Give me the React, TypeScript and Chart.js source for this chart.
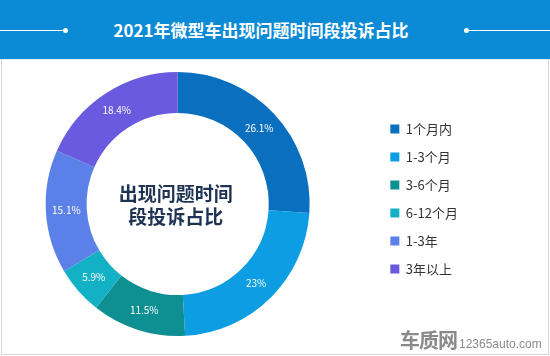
import React, { useEffect, useRef } from "react";
import { Chart, registerables } from "chart.js";

Chart.register(...registerables);

const title = "2021年微型车出现问题时间段投诉占比";
const centerLines = ["出现问题时间", "段投诉占比"];
const categories = ["1个月内", "1-3个月", "3-6个月", "6-12个月", "1-3年", "3年以上"];
const shares = [26.1, 23, 11.5, 5.9, 15.1, 18.4];
const colors = ["#0b6fc0", "#0c9de3", "#0e8f92", "#13b1c5", "#5b80e8", "#6a5adf"];

const FONT = '"Noto Sans CJK SC", "Noto Sans", sans-serif';

const sliceLabels = {
  id: "sliceLabels",
  afterDatasetsDraw(chart: any) {
    const ctx = chart.ctx;
    const meta = chart.getDatasetMeta(0);
    ctx.save();
    ctx.fillStyle = "#ffffff";
    ctx.font = `10px ${FONT}`;
    ctx.textAlign = "center";
    ctx.textBaseline = "middle";
    meta.data.forEach((arc: any, i: number) => {
      const p = arc.tooltipPosition();
      ctx.fillText(`${chart.data.datasets[0].data[i]}%`, p.x, p.y);
    });
    ctx.restore();
  },
};

const centerText = {
  id: "centerText",
  afterDraw(chart: any) {
    const ctx = chart.ctx;
    const meta = chart.getDatasetMeta(0);
    const arc = meta.data[0];
    if (!arc) return;
    const { x, y } = arc.getProps(["x", "y"], true);
    ctx.save();
    ctx.fillStyle = "#1e3354";
    ctx.font = `bold 19px ${FONT}`;
    ctx.textAlign = "center";
    ctx.textBaseline = "middle";
    ctx.fillText(centerLines[0], x - 2, y - 10);
    ctx.fillText(centerLines[1], x - 2, y + 13);
    ctx.restore();
  },
};

export default function App() {
  const ref = useRef<HTMLCanvasElement | null>(null);

  useEffect(() => {
    if (!ref.current) return;
    const chart = new Chart(ref.current, {
      type: "doughnut",
      data: {
        labels: categories,
        datasets: [
          {
            data: shares,
            backgroundColor: colors,
            borderWidth: 0,
            hoverOffset: 0,
          },
        ],
      },
      options: {
        responsive: false,
        maintainAspectRatio: false,
        animation: false,
        cutout: "69%",
        layout: { padding: { left: 0, right: 82, top: 13, bottom: 20 } },
        plugins: {
          tooltip: { enabled: false },
          legend: {
            position: "right",
            align: "start",
            title: { display: true, text: "", font: { size: 10 }, padding: { top: 23.5, bottom: 0 } },
            labels: {
              boxWidth: 9,
              boxHeight: 9,
              padding: 15,
              color: "#333333",
              font: { size: 13, family: FONT },
            },
          },
        },
      },
      plugins: [sliceLabels, centerText],
    });
    return () => chart.destroy();
  }, []);

  return (
    <div
      style={{
        position: "absolute",
        left: 0,
        top: 0,
        width: 550,
        height: 356,
        background: "#ffffff",
        overflow: "hidden",
        fontFamily: FONT,
      }}
    >
      <div
        style={{
          position: "absolute",
          left: 0,
          top: 0,
          width: 550,
          height: 59,
          background: "#0b8ad6",
        }}
      >
        <div style={{ position: "absolute", left: 0, top: 30, width: 64, height: 1, background: "#ffffff" }} />
        <div style={{ position: "absolute", left: 63, top: 28, width: 5, height: 5, borderRadius: 3, background: "#ffffff" }} />
        <div style={{ position: "absolute", left: 464, top: 28, width: 5, height: 5, borderRadius: 3, background: "#ffffff" }} />
        <div style={{ position: "absolute", left: 466, top: 30, width: 84, height: 1, background: "#ffffff" }} />
        <div
          style={{
            position: "absolute",
            left: -14,
            top: 0,
            width: 550,
            height: 59,
            lineHeight: "59px",
            textAlign: "center",
            color: "#ffffff",
            fontWeight: "bold",
            fontSize: 17,
            whiteSpace: "nowrap",
          }}
        >
          {title}
        </div>
      </div>
      <div style={{ position: "absolute", left: 0, top: 59, width: 550, height: 1, background: "#d8f3fb" }} />
      <canvas
        ref={ref}
        width={570}
        height={297}
        style={{ position: "absolute", left: -20, top: 59, width: 570, height: 297 }}
      />
      <div style={{ position: "absolute", left: 1, top: 59, width: 1, height: 296, background: "#d6d6d6" }} />
      <div style={{ position: "absolute", left: 548, top: 59, width: 1, height: 296, background: "#d6d6d6" }} />
      <div style={{ position: "absolute", left: 1, top: 354, width: 548, height: 1, background: "#d6d6d6" }} />
      <div
        style={{
          position: "absolute",
          left: 400,
          top: 328,
          height: 24,
          lineHeight: "24px",
          color: "#8a8a8a",
          whiteSpace: "nowrap",
        }}
      >
        <span style={{ fontSize: 20, fontWeight: "bold", letterSpacing: -1 }}>车质网</span>
        <span style={{ fontSize: 12, marginLeft: 2, fontFamily: '"Liberation Sans", sans-serif' }}>12365auto.com</span>
      </div>
    </div>
  );
}
